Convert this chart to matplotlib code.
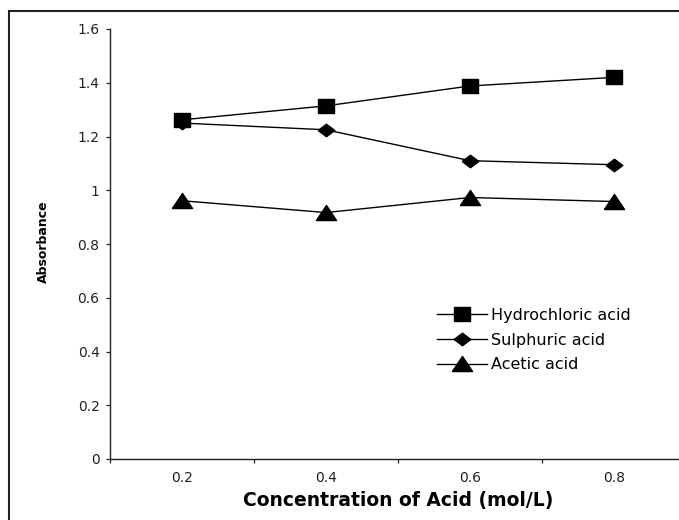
import matplotlib
matplotlib.use("Agg")
import matplotlib.pyplot as plt
from matplotlib.patches import Rectangle
from matplotlib.ticker import FixedLocator, NullFormatter, FixedFormatter

# ---- data ----
categories = ["0.2", "0.4", "0.6", "0.8"]
hydrochloric = [1.262, 1.314, 1.388, 1.420]
sulphuric = [1.250, 1.225, 1.110, 1.095]
acetic = [0.961, 0.917, 0.973, 0.958]
series_names = ["Hydrochloric acid", "Sulphuric acid", "Acetic acid"]
y_ticks = [0, 0.2, 0.4, 0.6, 0.8, 1.0, 1.2, 1.4, 1.6]
y_tick_labels = ["0", "0.2", "0.4", "0.6", "0.8", "1", "1.2", "1.4", "1.6"]

plt.rcParams['font.family'] = ['DejaVu Sans']

W, H = 679, 520
fig = plt.figure(figsize=(W / 100, H / 100), dpi=100)

# axes: left spine x=110, bottom y=459, top(1.6) y=29, right end ~686 (cropped)
ax = fig.add_axes([110 / W, (H - 459) / H, 576 / W, 430 / H])
ax.set_xlim(-0.5, len(categories) - 0.5)
ax.set_ylim(0, 1.6)

x = list(range(len(categories)))
sq = [(-1, -0.85), (1, -0.85), (1, 0.85), (-1, 0.85), (-1, -0.85)]
dia = [(-1, 0), (0, -0.75), (1, 0), (0, 0.75), (-1, 0)]
tri = [(-1, -0.7), (1, -0.7), (0, 0.8), (-1, -0.7)]

ax.plot(x, hydrochloric, color='black', lw=1.0, marker=sq, ms=12,
        mfc='black', mec='black', label=series_names[0])
ax.plot(x, sulphuric, color='black', lw=1.0, marker=dia, ms=12,
        mfc='black', mec='black', label=series_names[1])
ax.plot(x, acetic, color='black', lw=1.0, marker=tri, ms=14.5,
        mfc='black', mec='black', label=series_names[2])

for s in ['top', 'right']:
    ax.spines[s].set_visible(False)
for s in ['left', 'bottom']:
    ax.spines[s].set_color('#222222')
    ax.spines[s].set_linewidth(1.0)

ax.set_yticks(y_ticks)
ax.set_yticklabels(y_tick_labels)
ax.tick_params(axis='y', direction='out', length=3, width=0.9, pad=4.5,
               labelsize=10, colors='#222222')

ax.xaxis.set_major_locator(FixedLocator([i - 0.5 for i in range(len(categories) + 1)]))
ax.xaxis.set_major_formatter(NullFormatter())
ax.xaxis.set_minor_locator(FixedLocator(x))
ax.xaxis.set_minor_formatter(FixedFormatter(categories))
ax.tick_params(axis='x', which='major', direction='out', length=3, width=0.9, color='#222222')
ax.tick_params(axis='x', which='minor', length=0, pad=9, labelsize=10, labelcolor='#222222')

ax.set_xlabel("Concentration of Acid (mol/L)", fontsize=13.5, fontweight='bold', labelpad=4)
fig.text(43 / W, 1 - 242 / H, "Absorbance", rotation=90, ha='center', va='center',
         fontsize=9, fontweight='bold')

leg = ax.legend(loc='upper left', bbox_to_anchor=(437 / W, 1 - 308 / H),
                bbox_transform=fig.transFigure, frameon=False, fontsize=11.5,
                handlelength=3.1, handletextpad=0.3, labelspacing=0.6,
                borderpad=0, borderaxespad=0, markerscale=1.0)

# figure border (left and top visible; right/bottom cropped off)
fig.add_artist(Rectangle((9 / W, -0.1), 1.2, (1 - 11 / H) + 0.1, fill=False,
                         lw=1.5, edgecolor='#222222', transform=fig.transFigure))

fig.savefig("out.png", dpi=100)
